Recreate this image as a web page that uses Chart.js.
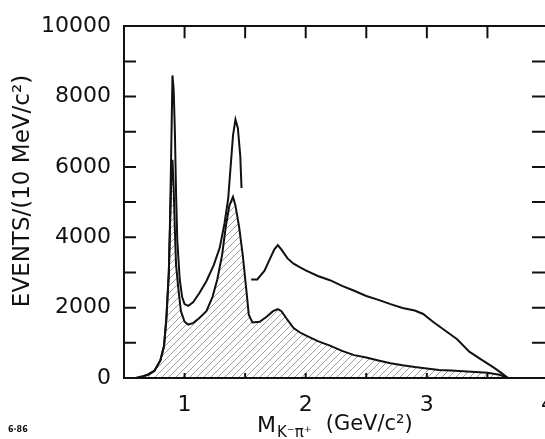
<!DOCTYPE html>
<html>
<head>
<meta charset="utf-8">
<script src="https://cdn.jsdelivr.net/npm/chart.js@4"></script>
<style>
  html, body { margin: 0; padding: 0; overflow: hidden; background: #fff; }
  #wrap { width: 569px; height: 439px; }
</style>
</head>
<body>
<div id="wrap"><canvas id="massChart" width="569" height="439"></canvas></div>
<script>
// all K-pi+ candidates (upper curve)
const totalMass = [0.60, 0.65, 0.70, 0.75, 0.80, 0.83, 0.85, 0.87, 0.88, 0.89, 0.90, 0.91, 0.92, 0.93, 0.94, 0.96, 0.98, 1.00, 1.03, 1.07, 1.12, 1.18, 1.24, 1.29, 1.33, 1.36, 1.38, 1.40, 1.42, 1.44, 1.46, 1.47, 1.50, 1.55, 1.60, 1.66, 1.70, 1.74, 1.77, 1.80, 1.85, 1.90, 1.95, 2.00, 2.10, 2.20, 2.30, 2.40, 2.50, 2.60, 2.70, 2.80, 2.90, 2.97, 3.05, 3.15, 3.25, 3.35, 3.45, 3.55, 3.62, 3.67];
const totalEvents = [0, 40, 100, 200, 500, 900, 1700, 3000, 4500, 6500, 8600, 8200, 7000, 5200, 3900, 2800, 2300, 2100, 2050, 2150, 2400, 2750, 3200, 3700, 4400, 5100, 6000, 6900, 7350, 7100, 6300, 5400, null, 2800, 2800, 3050, 3350, 3650, 3780, 3650, 3400, 3250, 3150, 3060, 2900, 2780, 2620, 2480, 2330, 2220, 2100, 1990, 1920, 1820, 1600, 1350, 1100, 750, 520, 300, 130, 0];

// shaded subsample (lower curve)
const shadedMass = [0.60, 0.65, 0.70, 0.75, 0.80, 0.83, 0.85, 0.87, 0.88, 0.89, 0.90, 0.91, 0.92, 0.93, 0.95, 0.97, 1.00, 1.03, 1.07, 1.12, 1.18, 1.23, 1.27, 1.31, 1.34, 1.37, 1.40, 1.42, 1.45, 1.48, 1.51, 1.53, 1.56, 1.62, 1.68, 1.73, 1.77, 1.80, 1.85, 1.90, 1.95, 2.00, 2.10, 2.20, 2.30, 2.40, 2.50, 2.60, 2.70, 2.80, 2.90, 3.00, 3.10, 3.20, 3.30, 3.40, 3.50, 3.60, 3.67];
const shadedEvents = [0, 40, 100, 200, 500, 900, 1700, 3000, 4300, 5600, 6200, 5400, 4200, 3200, 2500, 1900, 1600, 1520, 1560, 1700, 1900, 2300, 2800, 3500, 4300, 4900, 5150, 4900, 4300, 3500, 2500, 1800, 1580, 1600, 1750, 1900, 1960, 1900, 1650, 1420, 1300, 1210, 1050, 920, 770, 650, 580, 500, 420, 360, 310, 270, 230, 210, 190, 170, 150, 90, 0];

const xTickLabels = [1, 2, 3, 4];
const xTickMarks = [1, 1.5, 2, 2.5, 3, 3.5];
const yTickMarks = [1000, 2000, 3000, 4000, 5000, 6000, 7000, 8000, 9000];

const FONT = "DejaVu Sans";

function hatch() {
  const c = document.createElement("canvas");
  c.width = 7; c.height = 7;
  const g = c.getContext("2d");
  g.strokeStyle = "rgba(0,0,0,0.38)";
  g.lineWidth = 1;
  g.beginPath();
  g.moveTo(0, 7); g.lineTo(7, 0);
  g.moveTo(-3.5, 3.5); g.lineTo(3.5, -3.5);
  g.moveTo(3.5, 10.5); g.lineTo(10.5, 3.5);
  g.stroke();
  return g.createPattern(c, "repeat");
}

const innerTicks = {
  id: "innerTicks",
  afterDraw(chart) {
    const ctx = chart.ctx;
    const a = chart.chartArea;
    const x = chart.scales.x, y = chart.scales.y;
    ctx.save();
    ctx.strokeStyle = "#111";
    ctx.lineWidth = 2;
    ctx.beginPath();
    yTickMarks.forEach(v => {
      const py = y.getPixelForValue(v);
      ctx.moveTo(a.left, py); ctx.lineTo(a.left + 12, py);
      ctx.moveTo(a.right - 16, py); ctx.lineTo(a.right, py);
    });
    xTickMarks.forEach(v => {
      const px = x.getPixelForValue(v);
      ctx.moveTo(px, a.top); ctx.lineTo(px, a.top + 12);
      ctx.moveTo(px, a.bottom); ctx.lineTo(px, a.bottom - 5);
    });
    ctx.stroke();

    // axis titles
    ctx.fillStyle = "#111";
    ctx.textBaseline = "middle";
    ctx.save();
    ctx.translate(23, 191);
    ctx.rotate(-Math.PI / 2);
    ctx.textAlign = "center";
    ctx.font = "23px " + FONT;
    ctx.fillText("EVENTS/(10 MeV/c²)", 0, 0);
    ctx.restore();

    ctx.textAlign = "left";
    let cx = 257;
    const cy = 426;
    ctx.font = "22px " + FONT;
    ctx.fillText("M", cx, cy);
    cx += ctx.measureText("M").width + 1;
    ctx.font = "15px " + FONT;
    ctx.fillText("K⁻π⁺", cx, cy + 7);
    cx += ctx.measureText("K⁻π⁺").width + 14;
    ctx.font = "21px " + FONT;
    ctx.fillText("(GeV/c²)", cx, cy - 1);

    ctx.font = "bold 8px " + FONT;
    ctx.fillText("6·86", 8, 430);
    ctx.restore();
  }
};

new Chart(document.getElementById("massChart"), {
  type: "line",
  data: {
    datasets: [
      {
        label: "all",
        data: totalMass.map((m, i) => ({ x: m, y: totalEvents[i] })),
        borderColor: "#111",
        borderWidth: 2,
        pointRadius: 0,
        tension: 0,
        fill: false
      },
      {
        label: "shaded",
        data: shadedMass.map((m, i) => ({ x: m, y: shadedEvents[i] })),
        borderColor: "#111",
        borderWidth: 2,
        pointRadius: 0,
        tension: 0,
        fill: "origin",
        backgroundColor: hatch()
      }
    ]
  },
  options: {
    responsive: false,
    animation: false,
    layout: { autoPadding: false, padding: { top: 22, right: 4, left: 0, bottom: 0 } },
    plugins: { legend: { display: false }, tooltip: { enabled: false } },
    scales: {
      x: {
        type: "linear",
        min: 0.5,
        max: 4,
        afterFit: s => { s.height = 61; },
        afterBuildTicks: s => { s.ticks = xTickLabels.map(v => ({ value: v })); },
        grid: { display: false, drawTicks: false },
        border: { display: true, color: "#111", width: 2 },
        ticks: { color: "#111", padding: 14, font: { family: FONT, size: 22 }, callback: v => String(v) }
      },
      y: {
        min: 0,
        max: 10000,
        afterFit: s => { s.width = 124; },
        grid: { display: false, drawTicks: false },
        border: { display: true, color: "#111", width: 2 },
        ticks: { stepSize: 2000, color: "#111", padding: 13, font: { family: FONT, size: 22 }, callback: v => String(v) }
      },
      x2: {
        type: "linear",
        position: "top",
        min: 0.5,
        max: 4,
        afterFit: s => { s.height = 0; },
        grid: { display: false, drawTicks: false },
        border: { display: true, color: "#111", width: 2 },
        ticks: { display: false }
      }
    }
  },
  plugins: [innerTicks]
});
</script>
</body>
</html>
